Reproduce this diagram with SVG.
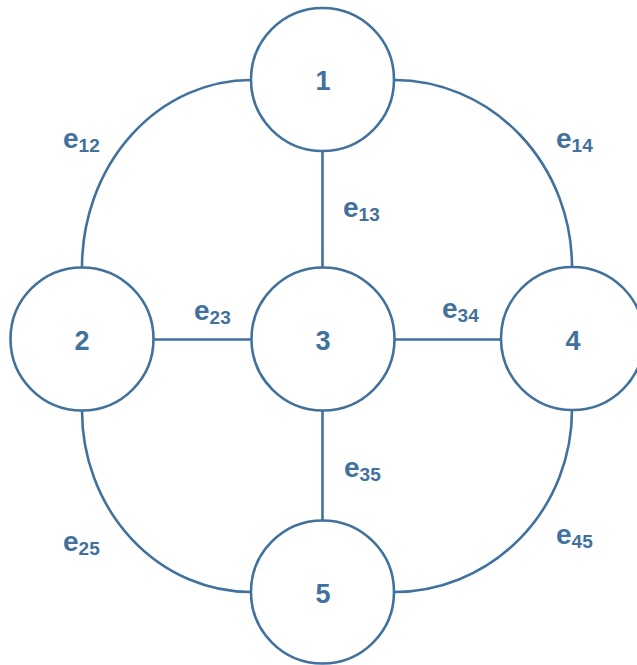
<svg xmlns="http://www.w3.org/2000/svg" width="637" height="665" viewBox="0 0 637 665">
<style>
.edge{fill:none;stroke:#41719C;stroke-width:2.6}
.node circle{fill:#fff;stroke:#41719C;stroke-width:2.6}
.node text{font-family:"Liberation Sans",Arial,sans-serif;font-weight:bold;font-size:27px;fill:#41719C;text-anchor:middle}
.lbl{font-family:"Liberation Sans",Arial,sans-serif;font-weight:bold;font-size:28px;fill:#41719C}
.lbl tspan.s{font-size:19px}
</style>
<rect width="637" height="665" fill="#fff"/>
<g id="connectors">
<line class="edge" x1="322.5" y1="151" x2="322.5" y2="267.5"/>
<line class="edge" x1="153.5" y1="339.5" x2="251.5" y2="339.5"/>
<line class="edge" x1="394.5" y1="339.5" x2="500.5" y2="339.5"/>
<line class="edge" x1="322.5" y1="411" x2="322.5" y2="520.5"/>
<path class="edge" d="M251,80 A169,187.5 0 0 0 82,267.5"/>
<path class="edge" d="M394,80 A178,187 0 0 1 572,267"/>
<path class="edge" d="M82,410.5 A169,181.5 0 0 0 251,592"/>
<path class="edge" d="M572,410 A178,182 0 0 1 394,592"/>
</g>
<g id="labels">
<text class="lbl" x="63" y="148">e<tspan class="s" dy="4">12</tspan></text>
<text class="lbl" x="556" y="148">e<tspan class="s" dy="4">14</tspan></text>
<text class="lbl" x="343" y="217">e<tspan class="s" dy="4">13</tspan></text>
<text class="lbl" x="194" y="320">e<tspan class="s" dy="4">23</tspan></text>
<text class="lbl" x="442" y="318">e<tspan class="s" dy="4">34</tspan></text>
<text class="lbl" x="344" y="477">e<tspan class="s" dy="4">35</tspan></text>
<text class="lbl" x="63" y="551">e<tspan class="s" dy="4">25</tspan></text>
<text class="lbl" x="556" y="544">e<tspan class="s" dy="4">45</tspan></text>
</g>
<g id="node1" class="node"><circle cx="322.5" cy="79.5" r="71.5"/><text x="323" y="90">1</text></g>
<g id="node2" class="node"><circle cx="82" cy="339" r="71.5"/><text x="82" y="350">2</text></g>
<g id="node3" class="node"><circle cx="323" cy="339" r="71.5"/><text x="323" y="350">3</text></g>
<g id="node4" class="node"><circle cx="572.5" cy="338.5" r="71.5"/><text x="573" y="350">4</text></g>
<g id="node5" class="node"><circle cx="322.5" cy="592" r="71.5"/><text x="323" y="603">5</text></g>
</svg>
